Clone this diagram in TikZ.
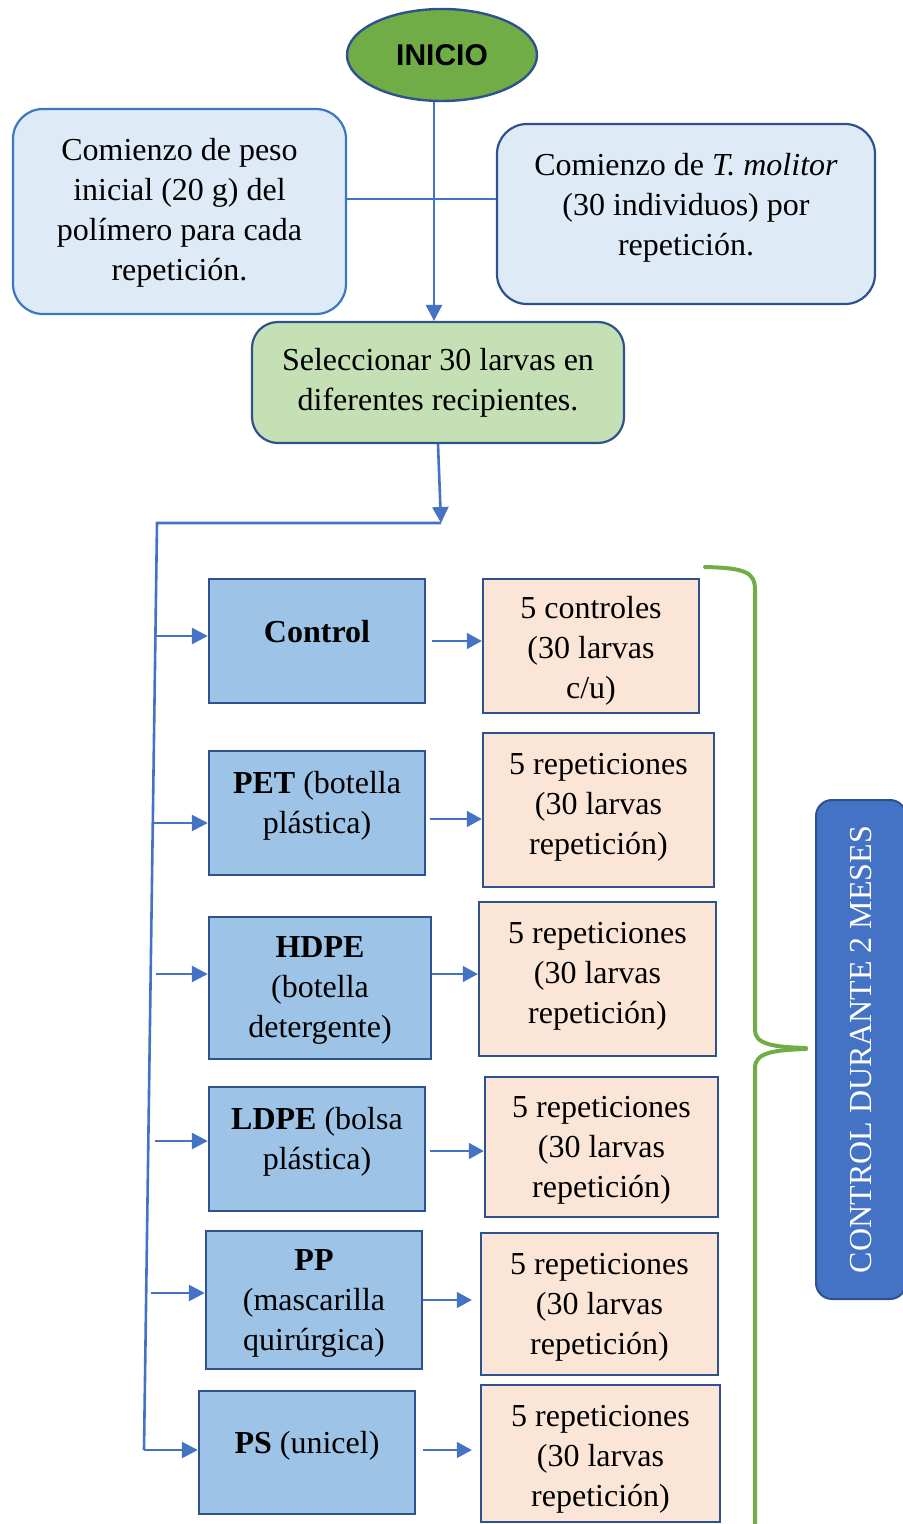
\documentclass[tikz,border=0pt]{standalone}
\usepackage{fontspec}
\setmainfont{Liberation Serif}
\newfontfamily\inisans{Liberation Sans}
\usetikzlibrary{arrows.meta,shapes.geometric}
\definecolor{connblue}{HTML}{4472C4}
\definecolor{darkborder}{HTML}{2F528F}
\definecolor{midborder}{HTML}{3A78C0}
\definecolor{lightbluefill}{HTML}{DEEBF7}
\definecolor{lightgreenfill}{HTML}{C5E0B4}
\definecolor{boxbluefill}{HTML}{9DC3E6}
\definecolor{peachfill}{HTML}{FBE5D6}
\definecolor{startgreen}{HTML}{70AD47}
\definecolor{sidebluefill}{HTML}{4472C4}
\tikzset{
  txt/.style={font=\fontsize{16}{20}\selectfont, align=center, text=black},
  startnode/.style={ellipse, draw=darkborder, line width=1.2pt, fill=startgreen, minimum width=95pt, minimum height=46pt, inner sep=0pt, font=\inisans\bfseries\fontsize{15}{18}\selectfont},
  infobox/.style={rectangle, rounded corners=15pt, fill=lightbluefill, line width=1.1pt, inner sep=0pt},
  selbox/.style={rectangle, rounded corners=13pt, fill=lightgreenfill, draw=darkborder, line width=1.1pt, inner sep=0pt},
  matbox/.style={rectangle, fill=boxbluefill, draw=darkborder, line width=1.2pt, inner sep=0pt},
  repbox/.style={rectangle, fill=peachfill, draw=darkborder, line width=1.2pt, inner sep=0pt},
  conn/.style={draw=connblue, line width=1.3pt},
  arr/.style={conn, -{Triangle[length=8pt, width=8pt]}},
  thinarr/.style={draw=connblue, line width=0.8pt, -{Triangle[length=7.5pt, width=8pt]}},
  bracestyle/.style={draw=startgreen, line width=2pt, line cap=round},
  sidebox/.style={rectangle, rounded corners=8pt, fill=sidebluefill, draw=darkborder, line width=1pt, inner sep=0pt},
}
\begin{document}
\begin{tikzpicture}[x=0.5pt, y=-0.5pt]
\useasboundingbox (0,0) rectangle (902,1524);

% top
\node[startnode] (ini) at (442,55) {INICIO};
\node[infobox, draw=midborder, minimum width=166.5pt, minimum height=102.5pt,
  label={[txt, yshift=-0.5pt]center:Comienzo de peso\\inicial (20 g) del\\polímero para cada\\repetición.}] (lt) at (179.5,211.5) {};
\node[infobox, draw=darkborder, minimum width=189pt, minimum height=90pt,
  label={[txt, yshift=3.25pt]center:Comienzo de \textit{T. molitor}\\(30 individuos) por\\repetición.}] (rt) at (686,214) {};
\node[selbox, minimum width=186pt, minimum height=60.5pt,
  label={[txt, yshift=-0.25pt]center:Seleccionar 30 larvas en\\diferentes recipientes.}] (sel) at (438,382.5) {};

% material boxes
\node[matbox, minimum width=108pt, minimum height=62pt,
  label={[txt, yshift=4.5pt]center:\textbf{Control}}] (l1) at (317,641) {};
\node[matbox, minimum width=108pt, minimum height=62pt,
  label={[txt, yshift=3.5pt]center:\textbf{PET} (botella\\plástica)}] (l2) at (317,813) {};
\node[matbox, minimum width=111pt, minimum height=71pt,
  label={[txt, yshift=-1.25pt]center:\textbf{HDPE}\\(botella\\detergente)}] (l3) at (320,988) {};
\node[matbox, minimum width=108pt, minimum height=62pt,
  label={[txt, yshift=3.5pt]center:\textbf{LDPE} (bolsa\\plástica)}] (l4) at (317,1149) {};
\node[matbox, minimum width=108pt, minimum height=69pt,
  label={[txt, yshift=-1.5pt]center:\textbf{PP}\\(mascarilla\\quirúrgica)}] (l5) at (314,1300) {};
\node[matbox, minimum width=108pt, minimum height=61.5pt,
  label={[txt, yshift=3.5pt]center:\textbf{PS} (unicel)}] (l6) at (307,1452.5) {};

% repetition boxes
\node[repbox, minimum width=108pt, minimum height=67pt,
  label={[txt, yshift=-2.5pt]center:5 controles\\(30 larvas\\c/u)}] (r1) at (591,646) {};
\node[repbox, minimum width=115.5pt, minimum height=77pt,
  label={[txt, yshift=1.5pt]center:5 repeticiones\\(30 larvas\\repetición)}] (r2) at (598.5,810) {};
\node[repbox, minimum width=118.5pt, minimum height=77pt,
  label={[txt, yshift=1.25pt]center:5 repeticiones\\(30 larvas\\repetición)}] (r3) at (597.5,979) {};
\node[repbox, minimum width=116.5pt, minimum height=70pt,
  label={[txt, yshift=-1.5pt]center:5 repeticiones\\(30 larvas\\repetición)}] (r4) at (601.5,1147) {};
\node[repbox, minimum width=118.5pt, minimum height=71pt,
  label={[txt, yshift=-1.5pt]center:5 repeticiones\\(30 larvas\\repetición)}] (r5) at (599.5,1304) {};
\node[repbox, minimum width=119.5pt, minimum height=68.5pt,
  label={[txt, yshift=-2.75pt]center:5 repeticiones\\(30 larvas\\repetición)}] (r6) at (600.5,1453.5) {};

% side box
\node[sidebox, minimum width=45pt, minimum height=249.5pt] (side) at (861,1049.5) {};
\node[txt, text=white, rotate=90] (sidetxt) at (side.center) {CONTROL DURANTE 2 MESES};

% connectors at top
\draw[arr] ([xshift=-4pt]ini.south) -- ([xshift=-2pt]sel.north);
\draw[conn] ([yshift=6.25pt]lt.east) -- ([yshift=7.5pt]rt.west);

% bus
\coordinate (bus) at (441,523);
\coordinate (bl) at (157,523);
\coordinate (bb) at (144,1450);
\draw[arr] (sel.south) -- (bus);
\draw[conn] (bus) -- (bl) -- (bb);

% branch arrows
\coordinate (a1) at (155.5,636);
\coordinate (a2) at (154,823);
\coordinate (a3) at (156,974);
\coordinate (a4) at (155,1141);
\coordinate (a5) at (151,1293);
\draw[arr] (a1) -- (a1 -| l1.west);
\draw[arr] (a2) -- (a2 -| l2.west);
\draw[arr] (a3) -- (a3 -| l3.west);
\draw[arr] (a4) -- (a4 -| l4.west);
\draw[arr] (a5) -- (a5 -| l5.west);
\draw[arr] (bb) -- (bb -| l6.west);

% middle arrows
\draw[thinarr] ([xshift=3pt]l1.east |- 0,641) -- (r1.west |- 0,641);
\draw[thinarr] ([xshift=2pt]l2.east |- 0,819) -- (r2.west |- 0,819);
\draw[thinarr] (l3.east |- 0,974) -- (r3.west |- 0,974);
\draw[thinarr] ([xshift=2pt]l4.east |- 0,1151) -- (r4.west |- 0,1151);
\draw[thinarr] (l5.east |- 0,1300) -- ([xshift=-4pt]r5.west |- 0,1300);
\draw[thinarr] ([xshift=3.5pt]l6.east |- 0,1450) -- ([xshift=-4pt]r6.west |- 0,1450);

% brace
\draw[bracestyle] (705,567) .. controls (745,568) and (755,572) .. (755,590)
  -- (755,1030) .. controls (755,1044) and (772,1047) .. (806,1048);
\draw[bracestyle] (806,1049) .. controls (772,1050) and (755,1053) .. (755,1068)
  -- (755,1530);
\end{tikzpicture}
\end{document}
